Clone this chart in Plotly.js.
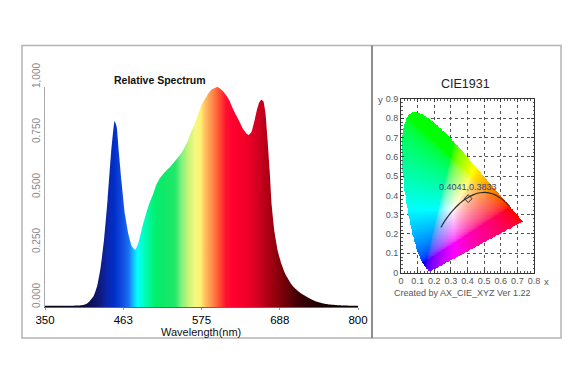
<!DOCTYPE html>
<html>
<head>
<meta charset="utf-8">
<script src="https://cdn.plot.ly/plotly-3.0.1.min.js"></script>
<style>
  html, body { margin: 0; padding: 0; background: #ffffff; }
  #chart { width: 577px; height: 385px; }
</style>
</head>
<body>
<div id="chart"></div>
<script>
// ---------- Relative spectrum ----------
const wavelength = [350, 380, 400, 405, 410, 415, 420, 425, 430, 435, 440, 445, 450, 453, 456, 460, 465, 470, 475, 480,
  485, 490, 495, 500, 505, 510, 515, 520, 525, 530, 535, 540, 545, 550, 555, 560, 565, 570, 575, 580,
  585, 590, 595, 598, 602, 606, 610, 615, 620, 625, 630, 635, 640, 643, 647, 651, 655, 658, 661, 664,
  667, 670, 673, 676, 680, 685, 690, 695, 700, 705, 710, 715, 720, 730, 740, 750, 760, 770, 780, 790, 800];
const relIntensity = [0.006, 0.006, 0.007, 0.009, 0.015, 0.03, 0.05, 0.095, 0.18, 0.31, 0.49, 0.70, 0.845, 0.82, 0.71, 0.57, 0.42, 0.33, 0.275, 0.26,
  0.30, 0.365, 0.42, 0.47, 0.51, 0.555, 0.585, 0.605, 0.622, 0.638, 0.656, 0.675, 0.695, 0.722, 0.752, 0.795, 0.83, 0.875, 0.918, 0.945,
  0.972, 0.99, 0.997, 1.0, 0.992, 0.98, 0.965, 0.94, 0.902, 0.87, 0.84, 0.808, 0.788, 0.782, 0.797, 0.845, 0.90, 0.93, 0.942, 0.935,
  0.88, 0.76, 0.62, 0.46, 0.34, 0.25, 0.195, 0.153, 0.125, 0.10, 0.083, 0.069, 0.058, 0.04, 0.025, 0.016, 0.011, 0.008, 0.007, 0.006, 0.006];

const specXTickVals = [350, 462.5, 575, 687.5, 800];
const specXTickText = ["350", "463", "575", "688", "800"];
const specYTickVals = [0, 0.25, 0.5, 0.75, 1];
const specYTickText = ["0.000", "0.250", "0.500", "0.750", "1,000"];

// wavelength -> colour stops for the fill
const gradWl = [350, 400, 415, 428, 440, 450, 460, 470, 477, 483, 490, 498, 508, 520, 537, 546, 556, 566, 574, 580,
  588, 595, 603, 610, 620, 640, 657, 676, 695, 714, 740, 800];
const gradColor = ["#050510", "#0a0a30", "#0c0e50", "#101878", "#0a26b0", "#0030c8", "#1048e0", "#1870f0", "#10c0ff", "#00ffff",
  "#00ffd0", "#00f8a0", "#00f070", "#10e868", "#20e868", "#80f080", "#c8f478", "#f4f882", "#fff070", "#ffc060",
  "#ff9850", "#ff7040", "#ff4030", "#ff1030", "#ff0030", "#f00028", "#d00020", "#a00010", "#700008", "#400005", "#200003", "#050000"];

// ---------- CIE 1931 ----------
const locusX = [0.1741, 0.1738, 0.1733, 0.1726, 0.1714, 0.1689, 0.1644, 0.1566, 0.1440, 0.1355, 0.1241, 0.1096, 0.0913, 0.0687, 0.0454,
  0.0235, 0.0082, 0.0039, 0.0139, 0.0389, 0.0743, 0.1142, 0.1547, 0.1929, 0.2296, 0.2658, 0.3016, 0.3373, 0.3731, 0.4087,
  0.4441, 0.4788, 0.5125, 0.5448, 0.5752, 0.6029, 0.6270, 0.6482, 0.6658, 0.6801, 0.6915, 0.7079, 0.7190, 0.7260, 0.7300, 0.7334, 0.7347];
const locusY = [0.0050, 0.0049, 0.0048, 0.0048, 0.0051, 0.0069, 0.0109, 0.0177, 0.0297, 0.0399, 0.0578, 0.0868, 0.1327, 0.2007, 0.2950,
  0.4127, 0.5384, 0.6548, 0.7502, 0.8120, 0.8338, 0.8262, 0.8059, 0.7816, 0.7543, 0.7243, 0.6923, 0.6589, 0.6245, 0.5896,
  0.5547, 0.5202, 0.4866, 0.4544, 0.4242, 0.3965, 0.3725, 0.3514, 0.3340, 0.3197, 0.3083, 0.2920, 0.2809, 0.2740, 0.2700, 0.2666, 0.2653];

const planckX = [0.6528, 0.6251, 0.5985, 0.5732, 0.5493, 0.5267, 0.5056, 0.4770, 0.4520, 0.4369, 0.4053, 0.3805, 0.3608, 0.3451,
  0.3325, 0.3221, 0.3135, 0.3064, 0.2952, 0.2869, 0.2807, 0.2719, 0.2637, 0.2565, 0.2501, 0.2399];
const planckY = [0.3444, 0.3674, 0.3858, 0.3994, 0.4085, 0.4133, 0.4152, 0.4137, 0.4086, 0.4041, 0.3907, 0.3768, 0.3636, 0.3516,
  0.3411, 0.3318, 0.3237, 0.3166, 0.3048, 0.2956, 0.2884, 0.2778, 0.2674, 0.2577, 0.2489, 0.2340];

const pointX = [0.4041];
const pointY = [0.3833];
const pointLabel = "0.4041,0.3833";

// ---------- helpers ----------
const FONT = "Liberation Sans, Arial, Helvetica, sans-serif";
const wMin = wavelength[0], wMax = wavelength[wavelength.length - 1];
const fillScale = gradWl.map((w, i) => [(w - wMin) / (wMax - wMin), gradColor[i]]);

function insideLocus(px, py) {
  let inside = false;
  const n = locusX.length;
  for (let i = 0, j = n - 1; i < n; j = i++) {
    const xi = locusX[i], yi = locusY[i], xj = locusX[j], yj = locusY[j];
    if (((yi > py) !== (yj > py)) && (px < (xj - xi) * (py - yi) / (yj - yi) + xi)) inside = !inside;
  }
  return inside;
}
function gam(c) { return c <= 0.0031308 ? 12.92 * c : 1.055 * Math.pow(c, 1 / 2.4) - 0.055; }
function chromaColor(x, y) {
  const X = x / y, Y = 1, Z = (1 - x - y) / y;
  let r = 3.2406 * X - 1.5372 * Y - 0.4986 * Z;
  let g = -0.9689 * X + 1.8758 * Y + 0.0415 * Z;
  let b = 0.0557 * X - 0.2040 * Y + 1.0570 * Z;
  r = Math.max(r, 0); g = Math.max(g, 0); b = Math.max(b, 0);
  const m = Math.max(r, g, b) || 1;
  return [Math.round(255 * gam(r / m)), Math.round(255 * gam(g / m)), Math.round(255 * gam(b / m))];
}
const cell = 0.004;
const nx = Math.round(0.8 / cell), ny = Math.round(0.9 / cell);
const zImg = [];
for (let i = 0; i < ny; i++) {
  const row = [];
  const cy = (i + 0.5) * cell;
  for (let j = 0; j < nx; j++) {
    const cx = (j + 0.5) * cell;
    if (insideLocus(cx, cy)) {
      const c = chromaColor(cx, cy);
      row.push([c[0], c[1], c[2], 1]);
    } else {
      row.push([255, 255, 255, 0]);
    }
  }
  zImg.push(row);
}

// ---------- traces ----------
const traces = [
  {
    type: "scatter", mode: "lines", x: wavelength, y: relIntensity,
    xaxis: "x", yaxis: "y",
    line: { width: 0, shape: "spline", smoothing: 0.4, color: "#000" },
    fill: "tozeroy",
    fillgradient: { type: "horizontal", colorscale: fillScale, start: wMin, stop: wMax },
    hoverinfo: "skip", showlegend: false
  },
  {
    type: "image", z: zImg, colormodel: "rgba",
    x0: cell / 2, dx: cell, y0: cell / 2, dy: cell,
    xaxis: "x2", yaxis: "y2", hoverinfo: "skip"
  },
  {
    type: "scatter", mode: "lines", x: planckX, y: planckY,
    xaxis: "x2", yaxis: "y2",
    line: { color: "#2a2a2a", width: 1.2, shape: "spline" },
    hoverinfo: "skip", showlegend: false
  },
  {
    type: "scatter", mode: "markers", x: pointX, y: pointY,
    xaxis: "x2", yaxis: "y2",
    marker: { symbol: "diamond-open", size: 6, color: "#333", line: { width: 1, color: "#333" } },
    hoverinfo: "skip", showlegend: false
  }
];

const W = 577, H = 385;
const px = v => v / W;
const py = v => (H - v) / H;

const layout = {
  width: W, height: H,
  margin: { l: 0, r: 0, t: 0, b: 0 },
  paper_bgcolor: "#ffffff", plot_bgcolor: "rgba(0,0,0,0)",
  showlegend: false,
  font: { family: FONT },
  xaxis: {
    domain: [px(45), px(358)], range: [wMin, wMax], anchor: "y",
    tickvals: specXTickVals, ticktext: specXTickText,
    tickfont: { size: 11.5, color: "#000", family: FONT },
    showgrid: false, zeroline: false,
    showline: true, linecolor: "#666", linewidth: 1,
    ticks: "outside", ticklen: 2, tickcolor: "#999", fixedrange: true
  },
  yaxis: {
    domain: [py(307), py(87)], range: [0, 1], anchor: "x",
    tickvals: specYTickVals, ticktext: specYTickText,
    tickangle: -90, ticklabelshift: -10,
    tickfont: { size: 10, color: "#888", family: FONT },
    showgrid: false, zeroline: false,
    showline: true, linecolor: "#aaa", linewidth: 1,
    ticks: "", fixedrange: true
  },
  xaxis2: {
    domain: [px(401), px(534)], range: [0, 0.8], anchor: "y2", autorange: false,
    tick0: 0, dtick: 0.1,
    tickfont: { size: 9, color: "#555", family: FONT },
    showgrid: true, gridcolor: "#555", gridwidth: 1, griddash: "dot",
    zeroline: false, showline: true, mirror: "allticks", linecolor: "#333", linewidth: 1,
    ticks: "inside", ticklen: 3, tickcolor: "#333",
    minor: { ticks: "inside", ticklen: 1.5, dtick: 0.02, tickcolor: "#555", showgrid: false },
    fixedrange: true
  },
  yaxis2: {
    domain: [py(272.5), py(99)], range: [0, 0.9], anchor: "x2", autorange: false, scaleanchor: false,
    tick0: 0, dtick: 0.1,
    tickfont: { size: 9, color: "#555", family: FONT },
    showgrid: true, gridcolor: "#555", gridwidth: 1, griddash: "dot",
    zeroline: false, showline: true, mirror: "allticks", linecolor: "#333", linewidth: 1,
    ticks: "inside", ticklen: 3, tickcolor: "#333",
    minor: { ticks: "inside", ticklen: 1.5, dtick: 0.02, tickcolor: "#555", showgrid: false },
    fixedrange: true
  },
  shapes: [
    { type: "rect", xref: "paper", yref: "paper", x0: px(22), x1: px(561), y0: py(338), y1: py(45.5),
      line: { color: "#b4b4b4", width: 1.5 }, fillcolor: "rgba(0,0,0,0)", layer: "below" },
    { type: "line", xref: "paper", yref: "paper", x0: px(372), x1: px(372), y0: py(338), y1: py(45.5),
      line: { color: "#6a6a6a", width: 1.5 } }
  ],
  annotations: [
    { xref: "paper", yref: "paper", x: px(160), y: py(80), text: "<b>Relative Spectrum</b>", showarrow: false,
      font: { size: 10.5, color: "#111", family: FONT }, xanchor: "center", yanchor: "middle" },
    { xref: "paper", yref: "paper", x: px(201), y: py(332), text: "Wavelength(nm)", showarrow: false,
      font: { size: 11, color: "#111", family: FONT }, xanchor: "center", yanchor: "middle" },
    { xref: "paper", yref: "paper", x: px(465), y: py(83.5), text: "CIE1931", showarrow: false,
      font: { size: 12.5, color: "#222", family: FONT }, xanchor: "center", yanchor: "middle" },
    { xref: "paper", yref: "paper", x: px(380), y: py(100), text: "y", showarrow: false,
      font: { size: 9.5, color: "#555", family: FONT }, xanchor: "center", yanchor: "middle" },
    { xref: "paper", yref: "paper", x: px(546), y: py(281), text: "x", showarrow: false,
      font: { size: 9.5, color: "#555", family: FONT }, xanchor: "center", yanchor: "middle" },
    { xref: "paper", yref: "paper", x: px(462), y: py(293), text: "Created by AX_CIE_XYZ Ver 1.22", showarrow: false,
      font: { size: 9, color: "#555", family: FONT }, xanchor: "center", yanchor: "middle" },
    { xref: "x2", yref: "y2", x: pointX[0], y: pointY[0], yshift: 12, text: pointLabel, showarrow: false,
      font: { size: 9, color: "#34457a", family: FONT }, xanchor: "center", yanchor: "middle" }
  ]
};

Plotly.newPlot("chart", traces, layout, { staticPlot: true, displayModeBar: false });
</script>
</body>
</html>
